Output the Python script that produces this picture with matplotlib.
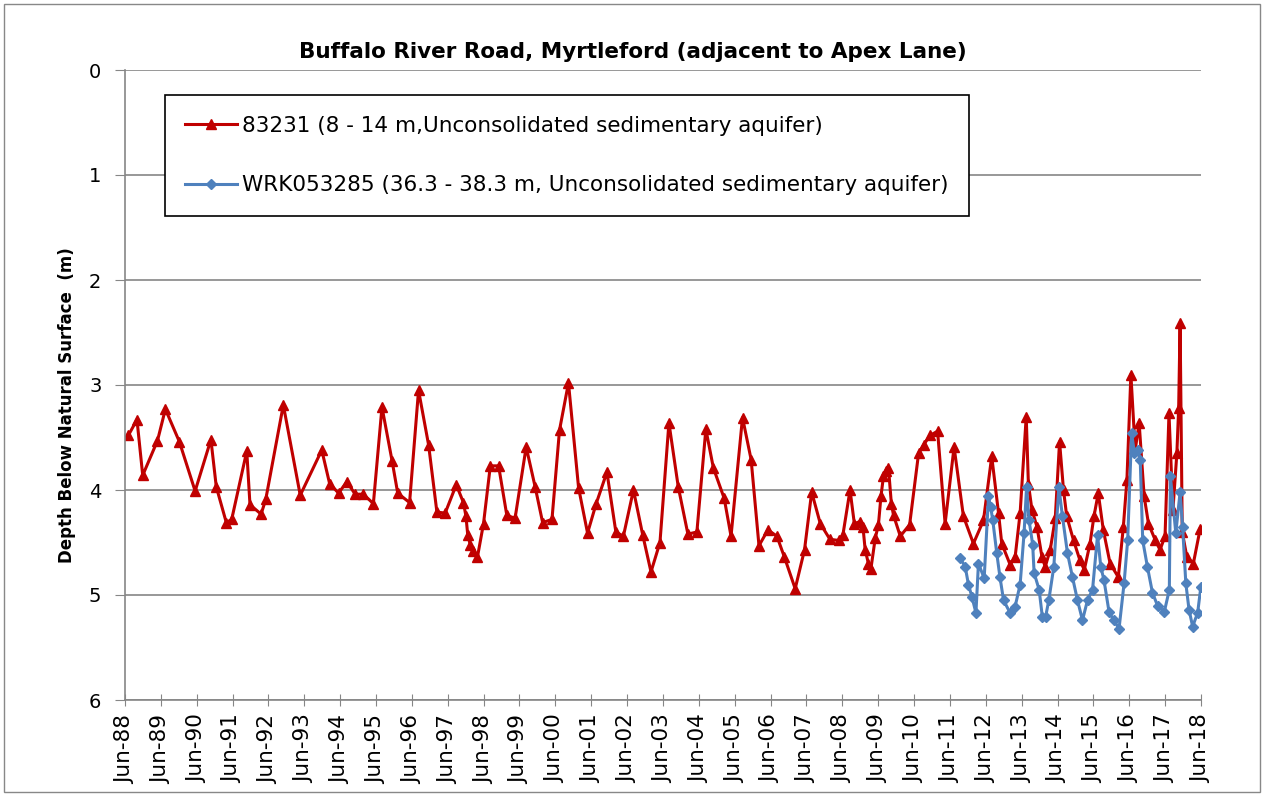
from datetime import datetime, timedelta

import matplotlib
matplotlib.use("Agg")
import matplotlib.pyplot as plt
import matplotlib.dates as mdates
from matplotlib.patches import Rectangle


# decimal year -> depth below natural surface (m)
red_years = [
    1988.51, 1988.75, 1988.91, 1989.32, 1989.54, 1989.93, 1990.37, 1990.81, 1990.96, 1991.24,
    1991.39, 1991.81, 1991.90, 1992.21, 1992.34, 1992.83, 1993.30, 1993.90, 1994.12, 1994.37,
    1994.60, 1994.83, 1995.06, 1995.34, 1995.58, 1995.86, 1996.02, 1996.35, 1996.60, 1996.88,
    1997.11, 1997.34, 1997.65, 1997.85, 1997.92, 1997.97, 1998.04, 1998.13, 1998.24, 1998.41,
    1998.60, 1998.83, 1999.06, 1999.29, 1999.60, 1999.85, 2000.06, 2000.32, 2000.53, 2000.78,
    2001.06, 2001.31, 2001.55, 2001.85, 2002.10, 2002.31, 2002.59, 2002.85, 2003.08, 2003.33,
    2003.58, 2003.84, 2004.11, 2004.36, 2004.61, 2004.82, 2005.12, 2005.31, 2005.63, 2005.87,
    2006.09, 2006.34, 2006.59, 2006.80, 2007.10, 2007.36, 2007.56, 2007.80, 2008.07, 2008.31,
    2008.43, 2008.63, 2008.75, 2008.91, 2008.99, 2009.05, 2009.14, 2009.21, 2009.33, 2009.42,
    2009.49, 2009.56, 2009.63, 2009.70, 2009.78, 2009.84, 2010.03, 2010.29, 2010.54, 2010.68,
    2010.86, 2011.07, 2011.28, 2011.53, 2011.79, 2012.07, 2012.35, 2012.58, 2012.77, 2012.86,
    2013.09, 2013.23, 2013.37, 2013.54, 2013.60, 2013.70, 2013.84, 2013.98, 2014.07, 2014.21,
    2014.35, 2014.47, 2014.58, 2014.67, 2014.86, 2015.04, 2015.16, 2015.32, 2015.43, 2015.55,
    2015.69, 2015.88, 2016.11, 2016.25, 2016.35, 2016.46, 2016.58, 2016.69, 2016.83, 2016.95,
    2017.14, 2017.27, 2017.41, 2017.52, 2017.63, 2017.74, 2017.79, 2017.83, 2017.89, 2018.02,
    2018.20, 2018.39,
]
red_depth = [
    3.48, 3.33, 3.86, 3.53, 3.23, 3.54, 4.01, 3.52, 3.97, 4.31,
    4.28, 3.63, 4.14, 4.23, 4.09, 3.19, 4.05, 3.62, 3.94, 4.03,
    3.92, 4.04, 4.04, 4.13, 3.21, 3.72, 4.03, 4.12, 3.05, 3.57,
    4.21, 4.22, 3.95, 4.12, 4.25, 4.43, 4.52, 4.58, 4.64, 4.32,
    3.77, 3.77, 4.24, 4.27, 3.59, 3.97, 4.31, 4.28, 3.43, 2.98,
    3.98, 4.41, 4.13, 3.83, 4.40, 4.44, 4.00, 4.43, 4.78, 4.50,
    3.36, 3.97, 4.42, 4.40, 3.42, 3.79, 4.08, 4.44, 3.31, 3.71,
    4.53, 4.38, 4.44, 4.64, 4.94, 4.57, 4.02, 4.32, 4.47, 4.48,
    4.43, 4.00, 4.32, 4.30, 4.35, 4.57, 4.70, 4.75, 4.46, 4.33,
    4.06, 3.87, 3.82, 3.79, 4.13, 4.24, 4.44, 4.33, 3.65, 3.57,
    3.48, 3.44, 4.32, 3.59, 4.25, 4.51, 4.29, 3.68, 4.22, 4.51,
    4.71, 4.64, 4.22, 3.30, 3.94, 4.19, 4.35, 4.64, 4.73, 4.57,
    4.27, 3.54, 4.00, 4.25, 4.48, 4.67, 4.76, 4.51, 4.25, 4.03,
    4.38, 4.70, 4.83, 4.35, 3.90, 2.90, 3.62, 3.36, 4.06, 4.32,
    4.48, 4.57, 4.44, 3.27, 4.19, 3.65, 3.22, 2.41, 4.40, 4.64,
    4.70, 4.37,
]

blue_years = [
    2011.70, 2011.84, 2011.93, 2012.03, 2012.14, 2012.21, 2012.37, 2012.49, 2012.55, 2012.61,
    2012.72, 2012.81, 2012.91, 2013.09, 2013.23, 2013.37, 2013.48, 2013.55, 2013.62, 2013.72,
    2013.76, 2013.90, 2013.99, 2014.08, 2014.17, 2014.31, 2014.45, 2014.55, 2014.69, 2014.83,
    2014.97, 2015.11, 2015.25, 2015.39, 2015.53, 2015.62, 2015.71, 2015.85, 2015.98, 2016.13,
    2016.27, 2016.37, 2016.48, 2016.56, 2016.65, 2016.72, 2016.79, 2016.92, 2017.06, 2017.20,
    2017.39, 2017.53, 2017.56, 2017.71, 2017.83, 2017.90, 2017.99, 2018.08, 2018.18, 2018.32,
    2018.41,
]
blue_depth = [
    4.65, 4.73, 4.90, 5.02, 5.17, 4.70, 4.84, 4.06, 4.16, 4.29,
    4.60, 4.83, 5.05, 5.17, 5.11, 4.90, 4.41, 3.97, 4.29, 4.52,
    4.79, 4.95, 5.21, 5.21, 5.05, 4.73, 3.97, 4.25, 4.60, 4.83,
    5.05, 5.24, 5.05, 4.95, 4.43, 4.73, 4.86, 5.16, 5.24, 5.32,
    4.89, 4.48, 3.46, 3.65, 3.62, 3.71, 4.48, 4.73, 4.98, 5.10,
    5.16, 4.95, 3.87, 4.41, 4.02, 4.35, 4.89, 5.14, 5.30, 5.17,
    4.92,
]

red_label = "83231 (8 - 14 m,Unconsolidated sedimentary aquifer)"
blue_label = "WRK053285 (36.3 - 38.3 m, Unconsolidated sedimentary aquifer)"
title = "Buffalo River Road, Myrtleford (adjacent to Apex Lane)"
y_label = "Depth Below Natural Surface  (m)"


def to_date(y):
    start = datetime(int(y), 1, 1)
    return start + timedelta(days=(y - int(y)) * 365.25)


def main():
    fig = plt.figure(figsize=(12.64, 7.96), dpi=100)
    ax = fig.add_axes([125 / 1264, 1 - 700 / 796, 1076 / 1264, 630 / 796])

    ax.plot([to_date(y) for y in red_years], red_depth, color="#C00000", lw=2.2,
            marker="^", ms=6.5, label=red_label)
    ax.plot([to_date(y) for y in blue_years], blue_depth, color="#4F81BD", lw=2.2,
            marker="D", ms=5.5, label=blue_label)

    ax.set_ylim(6, 0)
    ax.set_yticks(range(0, 7))
    ax.set_xlim(datetime(1988, 6, 1), datetime(2018, 6, 1))
    ax.set_xticks([datetime(y, 6, 1) for y in range(1988, 2019)])
    ax.xaxis.set_major_formatter(mdates.DateFormatter("%b-%y"))

    ax.grid(axis="y", color="#868686", lw=1.2)
    ax.set_axisbelow(True)
    for side in ("top", "right"):
        ax.spines[side].set_visible(False)
    for side in ("left", "bottom"):
        ax.spines[side].set_color("#868686")
        ax.spines[side].set_linewidth(1.2)

    ax.tick_params(axis="y", direction="out", length=7, color="#868686",
                   labelsize=14, pad=10)
    ax.tick_params(axis="x", direction="inout", length=9, color="#868686",
                   labelsize=15.5, labelrotation=90, pad=6)

    fig.text(633 / 1264, 1 - 52 / 796, title, fontsize=15.5, fontweight="bold",
             ha="center", va="center")
    fig.text(67 / 1264, 1 - 405 / 796, y_label, fontsize=12, fontweight="bold",
             rotation=90, ha="center", va="center")

    leg = ax.legend(loc="upper left", bbox_to_anchor=(0.037, 0.960), borderaxespad=0,
                    fancybox=False, edgecolor="black", framealpha=1, fontsize=15.5,
                    labelspacing=1.85, handlelength=2.4, handletextpad=0.25,
                    borderpad=0.95)
    leg.get_frame().set_linewidth(1.2)

    fig.patches.append(Rectangle((4 / 1264, 4 / 796), 1 - 8 / 1264, 1 - 8 / 796,
                                 transform=fig.transFigure, fill=False,
                                 edgecolor="#888888", lw=1))

    fig.savefig("out.png", dpi=100)
    plt.close(fig)


if __name__ == "__main__":
    main()
